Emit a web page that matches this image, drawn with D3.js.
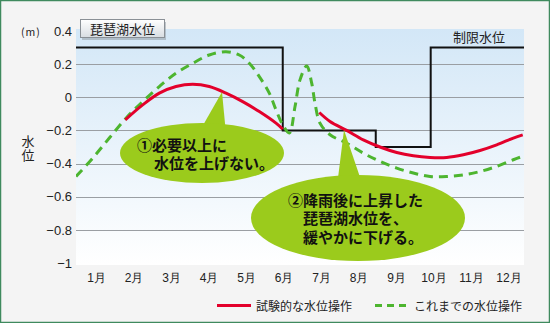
<!DOCTYPE html>
<html><head><meta charset="utf-8">
<script src="https://cdn.jsdelivr.net/npm/d3@7"></script>
<style>
html,body{margin:0;padding:0;background:#fff;}
svg{display:block;font-family:"Noto Sans CJK JP","Noto Sans",sans-serif;}
</style></head>
<body>
<svg id="c" width="550" height="323"></svg>
<script>
const months = ["1月","2月","3月","4月","5月","6月","7月","8月","9月","10月","11月","12月"];
const yTicks = [0.4,0.2,0,-0.2,-0.4,-0.6,-0.8,-1];
const gridTicks = [0.2,0,-0.2,-0.4,-0.6,-0.8];
// x values are in "month" units: 1 = middle of January label
// limit water level (step)
const limitX = [0.467, 5.98, 5.98, 8.46, 8.46, 9.925, 9.925, 12.42];
const limitY = [0.3, 0.3, -0.2, -0.2, -0.3, -0.3, 0.3, 0.3];
// trial operation (red), two segments
const redX1 = [1.781, 2.245, 2.688, 3.133, 3.579, 4.021, 4.467, 4.912, 5.355, 5.8, 5.979];
const redY1 = [-0.136, -0.046, 0.025, 0.065, 0.079, 0.065, 0.025, -0.026, -0.086, -0.156, -0.192];
const redX2 = [6.955, 7.24, 7.685, 8.128, 8.573, 9.019, 9.461, 9.907, 10.352, 10.795, 11.24, 11.685, 12.128, 12.379];
const redY2 = [-0.092, -0.146, -0.2, -0.257, -0.3, -0.333, -0.353, -0.363, -0.363, -0.347, -0.321, -0.287, -0.246, -0.227];
// previous operation (green dashed)
const greenX = [0.467, 0.912, 1.355, 1.8, 2.245, 2.688, 3.133, 3.579, 4.021, 4.467, 4.821, 5.088, 5.355, 5.621, 5.8, 5.979, 6.155, 6.307, 6.44, 6.619, 6.752, 6.84, 6.973, 7.24, 7.685, 8.128, 8.573, 9.019, 9.461, 9.907, 10.352, 10.795, 11.24, 11.685, 12.128, 12.39];
const greenY = [-0.478, -0.367, -0.246, -0.126, -0.026, 0.065, 0.145, 0.205, 0.255, 0.275, 0.255, 0.205, 0.125, 0.025, -0.076, -0.166, -0.216, -0.056, 0.105, 0.189, 0.085, -0.036, -0.156, -0.226, -0.277, -0.337, -0.387, -0.427, -0.457, -0.478, -0.478, -0.468, -0.448, -0.417, -0.377, -0.355];
const legendLabels = ["試験的な水位操作","これまでの水位操作"];

const svg = d3.select("#c");
const W=550,H=323;
const pl=76, pr=524, pt=29, pb=265;
const x = d3.scaleLinear().domain([0.467,12.413]).range([pl,pr]);
const y = d3.scaleLinear().domain([-1,0.4]).range([263,31]);

const defs = svg.append("defs");
const g1 = defs.append("linearGradient").attr("id","bg").attr("x1",0).attr("y1",0).attr("x2",0).attr("y2",1);
g1.append("stop").attr("offset","0%").attr("stop-color","#d3e7f7");
g1.append("stop").attr("offset","100%").attr("stop-color","#ffffff");
const g2 = defs.append("linearGradient").attr("id","tb").attr("x1",0).attr("y1",0).attr("x2",0).attr("y2",1);
g2.append("stop").attr("offset","0%").attr("stop-color","#ffffff");
g2.append("stop").attr("offset","100%").attr("stop-color","#d8dde2");
defs.append("clipPath").attr("id","clip").append("rect").attr("x",pl).attr("y",pt).attr("width",pr-pl).attr("height",pb-pt);

// background
svg.append("rect").attr("x",0).attr("y",0).attr("width",W).attr("height",H).attr("fill","#f4f4f4");
svg.append("rect").attr("x",0.5).attr("y",0.5).attr("width",W-1).attr("height",H-1).attr("fill","none").attr("stroke","#3f8a5e").attr("stroke-width",1.5);
svg.append("rect").attr("x",pl).attr("y",pt).attr("width",pr-pl).attr("height",pb-pt).attr("fill","url(#bg)");

// grid
svg.append("g").selectAll("line").data(gridTicks).join("line")
  .attr("x1",pl).attr("x2",pr).attr("y1",d=>Math.round(y(d))+0.5).attr("y2",d=>Math.round(y(d))+0.5)
  .attr("stroke","#9a9ea3").attr("stroke-width",1.2);

// y axis
const fmt = d => d===0 ? "0" : (d<0 ? "\u2212"+String(Math.abs(d)) : String(d));
const ya = svg.append("g").attr("transform",`translate(${pl},0)`)
  .call(d3.axisLeft(y).tickValues(yTicks).tickFormat(fmt).tickSize(0).tickPadding(4));
ya.select(".domain").remove();
ya.selectAll("text").attr("font-size",13).attr("fill","#222").attr("font-family","'Liberation Sans',Arial,sans-serif");

// x axis labels
const xa = svg.append("g").attr("transform",`translate(0,${pb})`)
  .call(d3.axisBottom(x).tickValues(d3.range(1,13)).tickFormat(d=>months[d-1]).tickSize(0).tickPadding(8));
xa.select(".domain").remove();
xa.selectAll("text").attr("font-size",12).attr("fill","#222");

// unit and axis title
svg.append("text").attr("x",21).attr("y",35.5).attr("font-size",10.5).attr("fill","#222").attr("letter-spacing",1).text("(m)");
svg.append("text").attr("x",28).attr("y",146).attr("font-size",13).attr("fill","#222").attr("text-anchor","middle").text("水");
svg.append("text").attr("x",28).attr("y",160).attr("font-size",13).attr("fill","#222").attr("text-anchor","middle").text("位");

const plot = svg.append("g").attr("clip-path","url(#clip)");
const line = d3.line().x(d=>x(d[0])).y(d=>y(d[1]));

// limit step line
plot.append("path").datum(d3.zip(limitX,limitY)).attr("d",line)
  .attr("fill","none").attr("stroke","#111").attr("stroke-width",2);

// green dashed
const curve = d3.line().x(d=>x(d[0])).y(d=>y(d[1])).curve(d3.curveCatmullRom.alpha(0.5));
plot.append("path").datum(d3.zip(greenX,greenY)).attr("d",curve)
  .attr("fill","none").attr("stroke","#4db52f").attr("stroke-width",3).attr("stroke-dasharray","9,6");

// red
[d3.zip(redX1,redY1), d3.zip(redX2,redY2)].forEach(seg=>{
  plot.append("path").datum(seg).attr("d",curve)
    .attr("fill","none").attr("stroke","#e3002b").attr("stroke-width",3);
});

// title box
svg.append("rect").attr("x",82).attr("y",22).attr("width",84).attr("height",18).attr("fill","#9aa3ab").attr("opacity",0.6);
svg.append("rect").attr("x",80.5).attr("y",19.5).attr("width",84).attr("height",18).attr("fill","url(#tb)").attr("stroke","#8a9096");
svg.append("text").attr("x",122.5).attr("y",33.5).attr("text-anchor","middle").attr("font-size",13).attr("fill","#222").text("琵琶湖水位");
svg.append("text").attr("x",479).attr("y",42).attr("text-anchor","middle").attr("font-size",13).attr("fill","#222").text("制限水位");

// callouts
const bub = "#9bcb1c";
svg.append("path").attr("d",`M198,134 L222,92 L226,134 Z`).attr("fill",bub);
svg.append("ellipse").attr("cx",202).attr("cy",153).attr("rx",82).attr("ry",30).attr("fill",bub);
svg.append("path").attr("d",`M337,186 L344,130 L363,186 Z`).attr("fill",bub);
svg.append("ellipse").attr("cx",358).attr("cy",218).attr("rx",107).attr("ry",43).attr("fill",bub);
const t1 = svg.append("text").attr("font-size",15).attr("font-weight","bold").attr("fill","#111");
t1.append("tspan").attr("x",137).attr("y",151).text("①必要以上に");
t1.append("tspan").attr("x",154).attr("y",169).text("水位を上げない。");
const t2 = svg.append("text").attr("font-size",15).attr("font-weight","bold").attr("fill","#111");
t2.append("tspan").attr("x",288).attr("y",206).text("②降雨後に上昇した");
t2.append("tspan").attr("x",303).attr("y",224).text("琵琶湖水位を、");
t2.append("tspan").attr("x",303).attr("y",243).text("緩やかに下げる。");

// legend
const lg = svg.append("g");
lg.append("line").attr("x1",217).attr("x2",251).attr("y1",305.5).attr("y2",305.5).attr("stroke","#e3002b").attr("stroke-width",3);
lg.append("text").attr("x",256).attr("y",310.5).attr("font-size",12).attr("fill","#222").text(legendLabels[0]);
lg.append("line").attr("x1",375).attr("x2",407).attr("y1",305.5).attr("y2",305.5).attr("stroke","#4db52f").attr("stroke-width",3).attr("stroke-dasharray","7,5");
lg.append("text").attr("x",414).attr("y",310.5).attr("font-size",12).attr("fill","#222").text(legendLabels[1]);
</script>
</body></html>
